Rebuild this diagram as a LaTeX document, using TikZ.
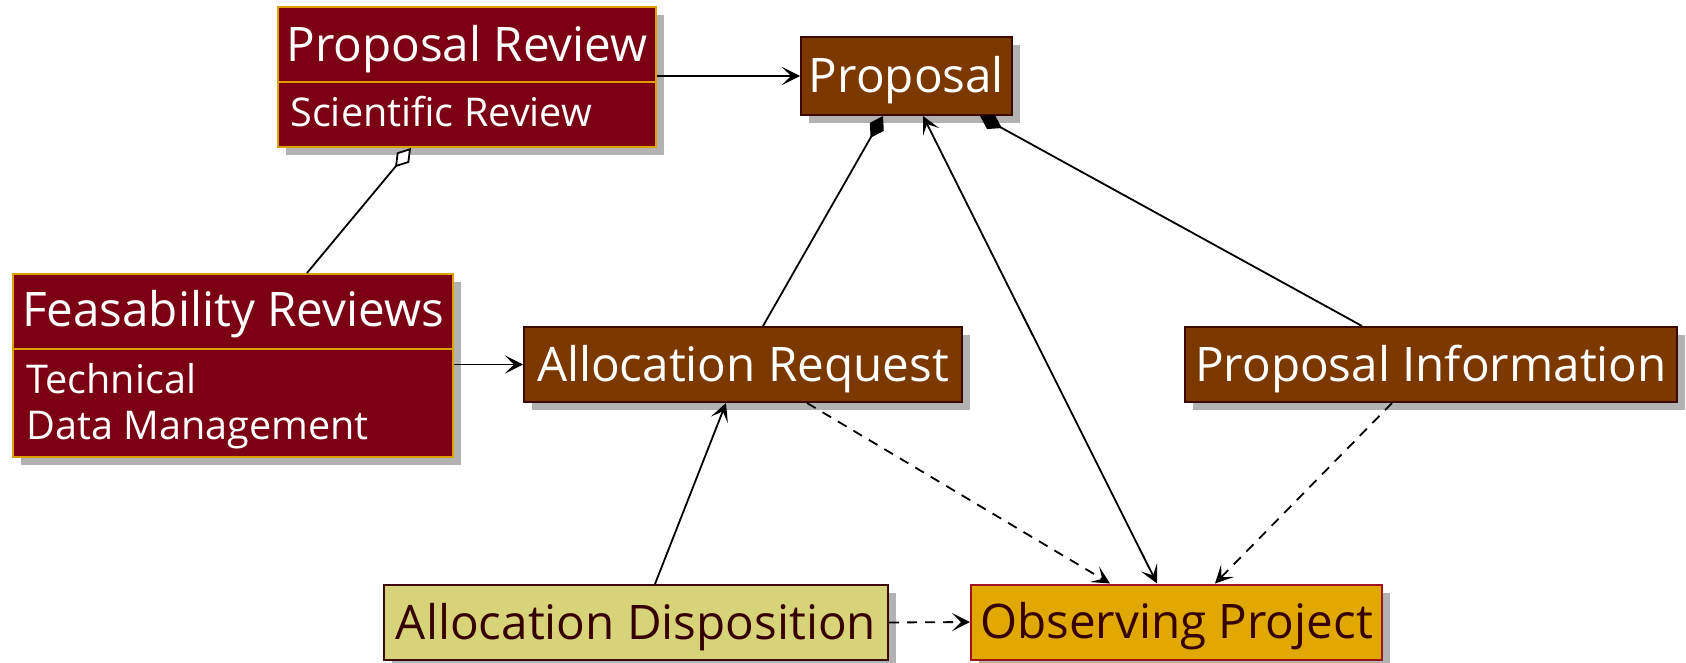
\documentclass[tikz,border=0pt]{standalone}
\usepackage{fontspec}
\setmainfont{Open Sans}
\usetikzlibrary{arrows.meta,positioning,shadows}
\definecolor{rvred}{RGB}{123,0,20}
\definecolor{rvgold}{RGB}{222,160,0}
\definecolor{pbrown}{RGB}{123,57,0}
\definecolor{pedge}{RGB}{60,8,0}
\definecolor{dyellow}{RGB}{214,211,121}
\definecolor{oamber}{RGB}{224,168,0}
\definecolor{oedge}{RGB}{160,20,30}
\definecolor{dtext}{RGB}{55,0,0}

\tikzset{
  boxshadow/.style={drop shadow={shadow xshift=4pt, shadow yshift=-4pt, opacity=0.3, fill=black}},
  reviewbox/.style={draw=rvgold, fill=rvred, line width=1pt, inner sep=0pt, boxshadow},
  entitybox/.style={draw=pedge, fill=pbrown, line width=1pt, text=white, inner sep=0pt,
    minimum height=37.5pt, text height=16.5pt, text depth=0pt, font=\titlefont, boxshadow},
  dispbox/.style={entitybox, draw=pedge, fill=dyellow, text=dtext},
  projbox/.style={entitybox, draw=oedge, fill=oamber, text=dtext},
  titletext/.style={text=white, inner sep=0pt, font=\titlefont, anchor=base},
  bodytext/.style={text=white, inner sep=0pt, font=\bodyfont, anchor=base west},
  link/.style={line width=0.9pt, black},
  assoc/.style={link, -{Stealth[length=9pt, width=9pt, inset=4.5pt]}},
  both/.style={link, {Stealth[length=9pt, width=9pt, inset=4.5pt]}-{Stealth[length=9pt, width=9pt, inset=4.5pt]}},
  depend/.style={assoc, dash pattern=on 5pt off 4pt},
  compose/.style={link, -{Diamond[length=12.5pt, width=8pt]}},
  aggregate/.style={link, -{Diamond[open, fill=white, length=12.5pt, width=8pt]}}
}
\newcommand{\titlefont}{\fontsize{23.8}{28}\selectfont}
\newcommand{\bodyfont}{\fontsize{19.8}{24}\selectfont}

\begin{document}
\begin{tikzpicture}[x=0.5pt, y=-0.5pt]
\useasboundingbox (0,0) rectangle (1686,663);

% Review boxes (two compartments)
\node[reviewbox, minimum width=189pt, minimum height=70pt] (review) at (467,77) {};
\draw[rvgold, line width=1pt] (review.west |- 0,82) -- (review.east |- 0,82);
\node[titletext] (reviewtitle) at (467,62) {Proposal Review};
\node[bodytext] (reviewbody) at (290,127) {Scientific Review};

\node[reviewbox, minimum width=220pt, minimum height=91.5pt] (feas) at (233,365.5) {};
\draw[rvgold, line width=1pt] (feas.west |- 0,349) -- (feas.east |- 0,349);
\node[titletext] (feastitle) at (233,326) {Feasability Reviews};
\node[bodytext] (feastech) at (26,393) {Technical};
\node[bodytext] (feasdata) at (26,439) {Data Management};

% Entities
\node[entitybox, minimum width=105.5pt, minimum height=39pt] (proposal) at (906.5,76) {Proposal};
\node[entitybox, minimum width=219pt] (areq) at (743,364.5) {Allocation Request};
\node[entitybox, minimum width=246pt] (pinfo) at (1431,364.5) {Proposal Information};
\node[dispbox, minimum width=252pt] (adisp) at (636,622.5) {Allocation Disposition};
\node[projbox, minimum width=205.5pt] (oproj) at (1176.5,622) {Observing Project};

% Connectors
\draw[assoc] (review.east |- proposal.west) -- (proposal.west);
\draw[aggregate] ([xshift=37pt]feas.north) -- ([xshift=-28pt]review.south);
\draw[assoc] (feas.east |- areq.west) -- (areq.west);
\draw[compose] ([xshift=10pt]areq.north) -- ([xshift=-11.75pt]proposal.south);
\draw[compose] ([xshift=-34.5pt]pinfo.north) -- ([xshift=36.75pt]proposal.south);
\draw[assoc] ([xshift=9.5pt]adisp.north) -- ([xshift=-8.5pt]areq.south);
\draw[depend] ([xshift=32pt]areq.south) -- ([xshift=-33.25pt]oproj.north);
\draw[both] ([xshift=8.25pt]proposal.south) -- ([xshift=-9.75pt]oproj.north);
\draw[depend] ([xshift=-19.5pt]pinfo.south) -- ([xshift=19.25pt]oproj.north);
\draw[depend] (adisp.east) -- (oproj.west);
\end{tikzpicture}
\end{document}
